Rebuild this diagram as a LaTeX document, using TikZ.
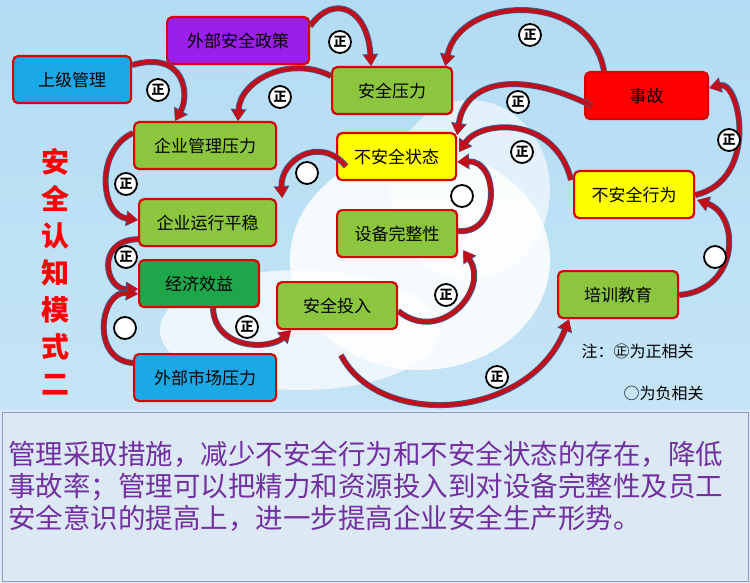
\documentclass[tikz,border=0pt]{standalone}
\usepackage{fontspec}
\setmainfont{Noto Sans CJK SC}
\usetikzlibrary{arrows.meta,shadings,calc}
\definecolor{bgsky}{HTML}{9FD3F0}
\definecolor{boxg}{HTML}{8CC63E}
\definecolor{boxdg}{HTML}{1EA64B}
\definecolor{boxb}{HTML}{1AA9E6}
\definecolor{boxp}{HTML}{9B1FEA}
\definecolor{boxy}{HTML}{FFFF00}
\definecolor{boxr}{HTML}{FF0000}
\definecolor{arr}{HTML}{C0101A}
\definecolor{arredge}{HTML}{3D5C9A}
\definecolor{txtp}{HTML}{7030A0}
\definecolor{panel}{HTML}{DCE8F4}
\tikzset{
  bx/.style={draw=red!85!black, line width=2.2pt, rounded corners=5pt, minimum height=47pt, inner sep=0pt, font=\fontsize{17}{17}\selectfont, anchor=north west},
  carrow/.style={line width=4.5pt, draw=arr, -{Triangle[length=11pt,width=13pt]}, preaction={draw=arredge, line width=6pt, -{Triangle[length=12pt,width=15pt]}}},
  poslbl/.style={circle, draw=black, line width=1.8pt, fill=white, inner sep=0.5pt, minimum size=22pt, font=\fontsize{13}{13}\selectfont\bfseries},
  neglbl/.style={circle, draw=black, line width=1.8pt, fill=white, inner sep=0pt, minimum size=22pt}
}
\begin{document}
\begin{tikzpicture}[x=1pt,y=-1pt]
\useasboundingbox (0,0) rectangle (750,583);
% background
\shade[top color=bgsky!80!white, bottom color=bgsky!60!white] (0,0) rectangle (750,410);
\fill[white, opacity=0.85] (420,260) ellipse (130 and 110);
\fill[white, opacity=0.7] (300,330) ellipse (140 and 60);
\fill[white, opacity=0.6] (470,190) ellipse (80 and 90);
% bottom panel
\fill[panel] (0,410) rectangle (750,583);
\draw[arredge!60!white, line width=1pt] (2,412) rectangle (748,581);
% boxes
\node[bx, fill=boxp, minimum width=142pt] (wbzc) at (166,16) {外部安全政策};
\node[bx, fill=boxb, minimum width=118pt] (sjgl) at (12,55) {上级管理};
\node[bx, fill=boxg, minimum width=120pt] (aqyl) at (331,66) {安全压力};
\node[bx, fill=boxr, minimum width=123pt] (sg) at (584,71) {事故};
\node[bx, fill=boxg, minimum width=142pt] (qygl) at (133,121) {企业管理压力};
\node[bx, fill=boxy, minimum width=119pt] (bazt) at (336,132) {不安全状态};
\node[bx, fill=boxy, minimum width=120pt] (baxw) at (573,170) {不安全行为};
\node[bx, fill=boxg, minimum width=137pt] (qyyx) at (138,198) {企业运行平稳};
\node[bx, fill=boxg, minimum width=120pt] (sbwz) at (336,209) {设备完整性};
\node[bx, fill=boxdg, minimum width=120pt] (jjxy) at (138,259) {经济效益};
\node[bx, fill=boxg, minimum width=120pt] (aqtr) at (276,281) {安全投入};
\node[bx, fill=boxg, minimum width=120pt] (pxjy) at (557,270) {培训教育};
\node[bx, fill=boxb, minimum width=142pt] (wbsc) at (133,353) {外部市场压力};
% arrows
\draw[carrow] ($(wbzc.north east)+(0,10)$) .. controls (335,-8) and (368,10) .. ($(aqyl.north west)+(40,0)$);
\draw[carrow] ($(sjgl.north east)+(0,10)$) .. controls (185,50) and (190,95) .. ($(qygl.north west)+(42,0)$);
\draw[carrow] ($(aqyl.north west)+(0,10)$) .. controls (290,55) and (240,80) .. ($(qygl.north west)+(105,0)$);
\draw[carrow] ($(sg.north west)+(20,0)$) .. controls (590,-10) and (460,-5) .. ($(aqyl.north east)+(-8,0)$);
\draw[carrow] ($(sg.north west)+(8,35)$) .. controls (520,70) and (465,80) .. ($(bazt.north east)+(0,3)$);
\draw[carrow] ($(baxw.north west)+(-2,10)$) .. controls (555,115) and (480,120) .. ($(bazt.north east)+(2,20)$);
\draw[carrow] ($(baxw.north east)+(0,25)$) .. controls (760,180) and (740,80) .. ($(sg.north east)+(0,17)$);
\draw[carrow] ($(pxjy.north east)+(0,25)$) .. controls (740,290) and (740,215) .. ($(baxw.north east)+(2,30)$);
\draw[carrow] ($(aqtr.south west)+(65,25)$) .. controls (380,430) and (530,420) .. ($(pxjy.south west)+(12,0)$);
\draw[carrow] ($(aqtr.north east)+(0,30)$) .. controls (440,345) and (490,290) .. ($(sbwz.south east)+(5,-8)$);
\draw[carrow] ($(sbwz.north east)+(0,22)$) .. controls (500,235) and (500,160) .. ($(bazt.north east)+(0,30)$);
\draw[carrow] ($(bazt.south west)+(10,-15)$) .. controls (320,135) and (280,160) .. ($(qyyx.north east)+(5,0)$);
\draw[carrow] ($(qygl.north west)+(0,12)$) .. controls (95,150) and (100,215) .. ($(qyyx.north west)+(0,22)$);
\draw[carrow] ($(qyyx.south west)+(0,-8)$) .. controls (95,240) and (105,290) .. ($(jjxy.north west)+(0,30)$);
\draw[carrow] ($(wbsc.north west)+(0,10)$) .. controls (90,360) and (100,290) .. ($(jjxy.north west)+(0,35)$);
\draw[carrow] ($(jjxy.south west)+(75,0)$) .. controls (215,350) and (270,350) .. ($(aqtr.south west)+(15,0)$);
% labels
\node[poslbl] (p1) at (340,42) {正};
\node[poslbl] (p2) at (158,90) {正};
\node[poslbl] (p3) at (280,97) {正};
\node[poslbl] (p4) at (530,35) {正};
\node[poslbl] (p5) at (518,102) {正};
\node[poslbl] (p6) at (522,152) {正};
\node[poslbl] (p7) at (729,140) {正};
\node[neglbl] (n8) at (715,257) {};
\node[poslbl] (p9) at (497,377) {正};
\node[poslbl] (p10) at (446,295) {正};
\node[neglbl] (n11) at (462,196) {};
\node[neglbl] (n12) at (307,173) {};
\node[poslbl] (p13) at (126,184) {正};
\node[poslbl] (p14) at (126,257) {正};
\node[neglbl] (n15) at (125,328) {};
\node[poslbl] (p16) at (247,327) {正};
% title
\node[text=red, font=\fontsize{28}{37}\selectfont\bfseries, align=center, anchor=north] (title) at (55,145) {安\\全\\认\\知\\模\\式\\二};
% legend
\node[anchor=west, font=\fontsize{16}{16}\selectfont] (lg1) at (578,351) {注：㊣为正相关};
\node[anchor=west, font=\fontsize{16}{16}\selectfont] (lg2) at (620,393) {○为负相关};
% text
\node[anchor=north west, text=txtp, font=\fontsize{27.5}{32}\selectfont, align=left, inner sep=0pt] (body) at (8,441) {管理采取措施，减少不安全行为和不安全状态的存在，降低\\事故率；管理可以把精力和资源投入到对设备完整性及员工\\安全意识的提高上，进一步提高企业安全生产形势。};
\end{tikzpicture}
\end{document}
